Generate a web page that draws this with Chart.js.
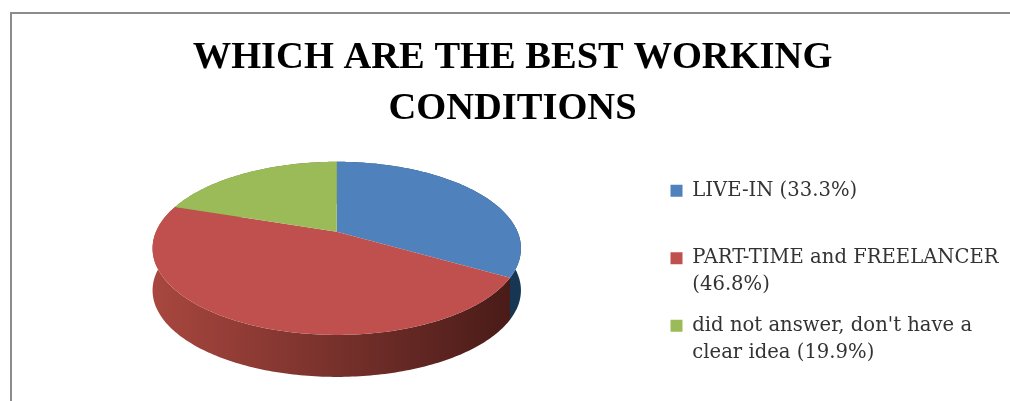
<!DOCTYPE html>
<html>
<head>
<meta charset="utf-8">
<script src="https://cdn.jsdelivr.net/npm/chart.js@4"></script>
<style>
  html, body { margin: 0; padding: 0; background: #fff; overflow: hidden; }
  .wrap { position: relative; width: 1010px; height: 401px; }
  .frame { position: absolute; left: 10px; top: 12px; right: 0; bottom: -2px; border: 2px solid #8c8c8c; border-right: 0; border-bottom: 0; }
</style>
</head>
<body>
<div class="wrap">
  <div class="frame"></div>
  <canvas id="chart" width="1010" height="401"></canvas>
</div>
<script>
// every entry takes two lines so the legend keeps an even pitch
const categories = [
  ['LIVE-IN (33.3%)', ''],
  ['PART-TIME and FREELANCER', '(46.8%)'],
  ['did not answer, don\'t have a', 'clear idea (19.9%)']
];
const shares = [33.3, 46.8, 19.9];
const topColors = ['#4f81bd', '#c0504d', '#9bbb59'];
const sideLight = ['#2a5a8c', '#a8473f', '#7a9a3a'];
const sideDark = ['#173654', '#491b18', '#4c6226'];
const titleLines = ['WHICH ARE THE BEST WORKING', 'CONDITIONS'];

// pie is tilted in perspective, so the hub sits above the middle of the ellipse
const tilt = { spread: 0.9826, squash: 0.4533, persp: -0.191, depth: 42 };
const legendShiftY = 115;

function project(arc, angle) {
  const t = angle + Math.PI / 2;
  const sx = Math.sin(t), sy = -Math.cos(t);
  const w = 1 + tilt.persp * sy;
  return {
    x: arc.x + arc.outerRadius * tilt.spread * sx / w,
    y: arc.y + arc.outerRadius * tilt.squash * sy / w
  };
}

function rim(arc) {
  const pts = [];
  const n = Math.max(2, Math.ceil((arc.endAngle - arc.startAngle) * 60));
  for (let i = 0; i <= n; i++) {
    pts.push(project(arc, arc.startAngle + (arc.endAngle - arc.startAngle) * i / n));
  }
  return pts;
}

const tiltedPie = {
  id: 'tiltedPie',
  afterLayout(chart) {
    chart.legend.top += legendShiftY;
    chart.legend.bottom += legendShiftY;
  },
  beforeDatasetDraw(chart, args) {
    const ctx = chart.ctx;
    const arcs = args.meta.data;
    // sides first, the top faces cover whatever is at the back
    arcs.forEach((arc, i) => {
      const pts = rim(arc);
      const grad = ctx.createLinearGradient(arc.x - arc.outerRadius, 0, arc.x + arc.outerRadius * 0.95, 0);
      grad.addColorStop(0, sideLight[i]);
      grad.addColorStop(1, sideDark[i]);
      ctx.beginPath();
      pts.forEach((p, j) => j ? ctx.lineTo(p.x, p.y) : ctx.moveTo(p.x, p.y));
      pts.slice().reverse().forEach(p => ctx.lineTo(p.x, p.y + tilt.depth));
      ctx.closePath();
      ctx.fillStyle = grad;
      ctx.fill();
    });
    arcs.forEach(arc => {
      ctx.beginPath();
      ctx.moveTo(arc.x, arc.y);
      rim(arc).forEach(p => ctx.lineTo(p.x, p.y));
      ctx.closePath();
      ctx.fillStyle = arc.options.backgroundColor;
      ctx.fill();
    });
    return false;
  }
};

new Chart(document.getElementById('chart'), {
  type: 'pie',
  data: {
    labels: categories,
    datasets: [{ data: shares, backgroundColor: topColors, borderWidth: 0 }]
  },
  plugins: [tiltedPie],
  options: {
    responsive: false,
    animation: false,
    radius: 184,
    layout: { padding: { left: 16.5, right: 1.5, bottom: 80 } },
    plugins: {
      tooltip: { enabled: false },
      title: {
        display: true,
        text: titleLines,
        color: '#000',
        font: { family: '"Liberation Serif"', size: 38.5, weight: 'bold', lineHeight: 1.32 },
        padding: { top: 33, bottom: 8 }
      },
      legend: {
        position: 'right',
        labels: {
          boxWidth: 12,
          boxHeight: 12,
          padding: 13.5,
          color: '#333',
          font: { family: '"DejaVu Serif"', size: 19.6, lineHeight: 1.38 }
        }
      }
    }
  }
});
</script>
</body>
</html>
